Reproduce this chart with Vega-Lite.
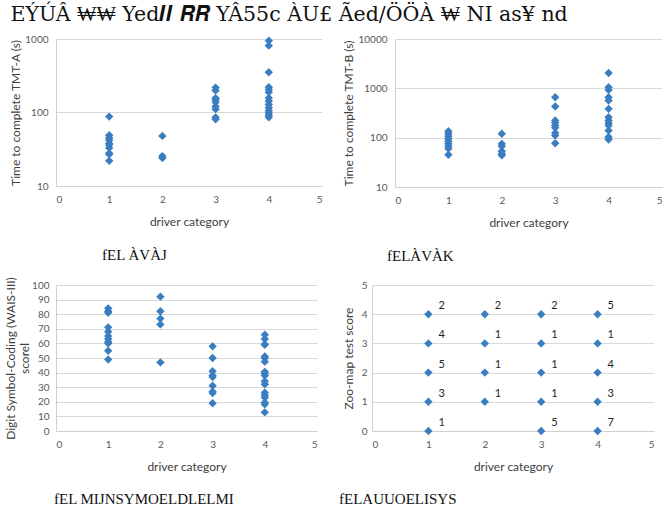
{
  "$schema": "https://vega.github.io/schema/vega-lite/v6.json",
  "padding": {"left": 4, "top": 4, "right": 2, "bottom": 2},
  "background": "white",
  "title": {"text": "EÝÚÂ ₩₩ Yed𝑰𝑰 𝑹𝑹 YÂ55c ÀU£   Ãed/ÖÖÀ   ₩ NI as¥ nd", "anchor": "start", "fontSize": 20.5, "font": "DejaVu Serif", "fontWeight": "normal", "color": "#111111", "offset": 9, "dx": 6},
  "config": {
    "view": {"stroke": null},
    "font": "Lato",
    "axis": {"labelFont": "Lato", "titleFont": "Lato", "labelFontSize": 10, "titleFontSize": 12, "labelColor": "#595959", "titleColor": "#404040", "titleFontWeight": "normal", "ticks": false, "domainColor": "#d0d0d0", "gridColor": "#d9d9d9", "labelPadding": 8},
    "axisX": {"grid": false, "titlePadding": 12},
    "axisY": {"titlePadding": 2},
    "title": {"font": "Liberation Serif", "fontSize": 15, "fontWeight": "normal", "color": "#111111"}
  },
  "datasets": {
    "tmtA": [
      {"cat": 1, "t": 88}, {"cat": 1, "t": 49}, {"cat": 1, "t": 45}, {"cat": 1, "t": 42}, {"cat": 1, "t": 38}, {"cat": 1, "t": 36}, {"cat": 1, "t": 33}, {"cat": 1, "t": 28}, {"cat": 1, "t": 27}, {"cat": 1, "t": 22},
      {"cat": 2, "t": 48}, {"cat": 2, "t": 25.5}, {"cat": 2, "t": 24},
      {"cat": 3, "t": 218}, {"cat": 3, "t": 199}, {"cat": 3, "t": 157}, {"cat": 3, "t": 149}, {"cat": 3, "t": 138}, {"cat": 3, "t": 121}, {"cat": 3, "t": 111}, {"cat": 3, "t": 86}, {"cat": 3, "t": 81},
      {"cat": 4, "t": 949}, {"cat": 4, "t": 812}, {"cat": 4, "t": 353}, {"cat": 4, "t": 221}, {"cat": 4, "t": 205}, {"cat": 4, "t": 189}, {"cat": 4, "t": 158}, {"cat": 4, "t": 143}, {"cat": 4, "t": 128}, {"cat": 4, "t": 116}, {"cat": 4, "t": 106}, {"cat": 4, "t": 98}, {"cat": 4, "t": 91}, {"cat": 4, "t": 86}
    ],
    "tmtB": [
      {"cat": 1, "t": 135}, {"cat": 1, "t": 120}, {"cat": 1, "t": 107}, {"cat": 1, "t": 95}, {"cat": 1, "t": 85}, {"cat": 1, "t": 75}, {"cat": 1, "t": 67}, {"cat": 1, "t": 60}, {"cat": 1, "t": 45},
      {"cat": 2, "t": 120}, {"cat": 2, "t": 75}, {"cat": 2, "t": 67}, {"cat": 2, "t": 53}, {"cat": 2, "t": 47}, {"cat": 2, "t": 44},
      {"cat": 3, "t": 660}, {"cat": 3, "t": 428}, {"cat": 3, "t": 223}, {"cat": 3, "t": 200}, {"cat": 3, "t": 177}, {"cat": 3, "t": 158}, {"cat": 3, "t": 125}, {"cat": 3, "t": 111}, {"cat": 3, "t": 77},
      {"cat": 4, "t": 2050}, {"cat": 4, "t": 1050}, {"cat": 4, "t": 930}, {"cat": 4, "t": 660}, {"cat": 4, "t": 566}, {"cat": 4, "t": 384}, {"cat": 4, "t": 260}, {"cat": 4, "t": 223}, {"cat": 4, "t": 197}, {"cat": 4, "t": 177}, {"cat": 4, "t": 140}, {"cat": 4, "t": 103}, {"cat": 4, "t": 92}
    ],
    "dsc": [
      {"cat": 1, "s": 84}, {"cat": 1, "s": 82}, {"cat": 1, "s": 81}, {"cat": 1, "s": 71}, {"cat": 1, "s": 68}, {"cat": 1, "s": 65}, {"cat": 1, "s": 63}, {"cat": 1, "s": 61}, {"cat": 1, "s": 60}, {"cat": 1, "s": 55}, {"cat": 1, "s": 49},
      {"cat": 2, "s": 92}, {"cat": 2, "s": 82}, {"cat": 2, "s": 77}, {"cat": 2, "s": 73}, {"cat": 2, "s": 47},
      {"cat": 3, "s": 58}, {"cat": 3, "s": 50}, {"cat": 3, "s": 41}, {"cat": 3, "s": 38}, {"cat": 3, "s": 37}, {"cat": 3, "s": 31}, {"cat": 3, "s": 27}, {"cat": 3, "s": 26}, {"cat": 3, "s": 19},
      {"cat": 4, "s": 66}, {"cat": 4, "s": 63}, {"cat": 4, "s": 59.5}, {"cat": 4, "s": 59}, {"cat": 4, "s": 51}, {"cat": 4, "s": 50}, {"cat": 4, "s": 47.5}, {"cat": 4, "s": 40.5}, {"cat": 4, "s": 39.5}, {"cat": 4, "s": 38}, {"cat": 4, "s": 34}, {"cat": 4, "s": 32}, {"cat": 4, "s": 26.3}, {"cat": 4, "s": 24.7}, {"cat": 4, "s": 23}, {"cat": 4, "s": 19.5}, {"cat": 4, "s": 18.3}, {"cat": 4, "s": 12.8}
    ],
    "zoo": [
      {"cat": 1, "s": 4, "n": 2}, {"cat": 1, "s": 3, "n": 4}, {"cat": 1, "s": 2, "n": 5}, {"cat": 1, "s": 1, "n": 3}, {"cat": 1, "s": 0, "n": 1},
      {"cat": 2, "s": 4, "n": 2}, {"cat": 2, "s": 3, "n": 1}, {"cat": 2, "s": 2, "n": 1}, {"cat": 2, "s": 1, "n": 1},
      {"cat": 3, "s": 4, "n": 2}, {"cat": 3, "s": 3, "n": 1}, {"cat": 3, "s": 2, "n": 1}, {"cat": 3, "s": 1, "n": 1}, {"cat": 3, "s": 0, "n": 5},
      {"cat": 4, "s": 4, "n": 5}, {"cat": 4, "s": 3, "n": 1}, {"cat": 4, "s": 2, "n": 4}, {"cat": 4, "s": 1, "n": 3}, {"cat": 4, "s": 0, "n": 7}
    ]
  },
  "spacing": 12,
  "vconcat": [
    {
      "spacing": 20,
      "hconcat": [
        {
          "width": 266, "height": 147,
          "data": {"name": "tmtA"},
          "title": {"text": "fEL ÀVÀJ", "orient": "bottom", "anchor": "start", "frame": "group", "dx": 46, "offset": 21},
          "mark": {"type": "point", "shape": "diamond", "filled": true, "size": 70, "color": "#3a7dc1", "opacity": 1},
          "encoding": {
            "x": {"field": "cat", "type": "quantitative", "scale": {"domain": [0, 5], "nice": false}, "axis": {"values": [0, 1, 2, 3, 4, 5], "title": "driver category"}},
            "y": {"field": "t", "type": "quantitative", "scale": {"type": "log", "domain": [10, 1000], "nice": false}, "axis": {"values": [10, 100, 1000], "format": "d", "title": "Time to complete TMT-A (s)"}}
          }
        },
        {
          "width": 267, "height": 148,
          "data": {"name": "tmtB"},
          "title": {"text": "fELÀVÀK", "orient": "bottom", "anchor": "start", "frame": "group", "dx": -8, "offset": 21},
          "mark": {"type": "point", "shape": "diamond", "filled": true, "size": 70, "color": "#3a7dc1", "opacity": 1},
          "encoding": {
            "x": {"field": "cat", "type": "quantitative", "scale": {"domain": [0, 5], "nice": false}, "axis": {"values": [0, 1, 2, 3, 4, 5], "title": "driver category"}},
            "y": {"field": "t", "type": "quantitative", "scale": {"type": "log", "domain": [10, 10000], "nice": false}, "axis": {"values": [10, 100, 1000, 10000], "format": "d", "title": "Time to complete TMT-B (s)"}}
          }
        }
      ]
    },
    {
      "spacing": 22,
      "hconcat": [
        {
          "width": 261, "height": 146,
          "data": {"name": "dsc"},
          "title": {"text": "fEL MIJNSYMOELDLELMI", "orient": "bottom", "anchor": "start", "frame": "group", "dx": -2, "offset": 20},
          "mark": {"type": "point", "shape": "diamond", "filled": true, "size": 70, "color": "#3a7dc1", "opacity": 1},
          "encoding": {
            "x": {"field": "cat", "type": "quantitative", "scale": {"domain": [0, 5], "nice": false}, "axis": {"values": [0, 1, 2, 3, 4, 5], "title": "driver category"}},
            "y": {"field": "s", "type": "quantitative", "scale": {"domain": [0, 100], "nice": false}, "axis": {"values": [0, 10, 20, 30, 40, 50, 60, 70, 80, 90, 100], "title": ["Digit Symbol-Coding (WAIS-III)", "scorel"], "titlePadding": 0, "labelPadding": 7}}
          }
        },
        {
          "width": 282, "height": 146,
          "data": {"name": "zoo"},
          "title": {"text": "fELAUUOELISYS", "orient": "bottom", "anchor": "start", "frame": "group", "dx": -33, "offset": 20},
          "encoding": {
            "x": {"field": "cat", "type": "quantitative", "scale": {"domain": [0, 5], "nice": false}, "axis": {"values": [0, 1, 2, 3, 4, 5], "title": "driver category"}},
            "y": {"field": "s", "type": "quantitative", "scale": {"domain": [0, 5], "nice": false}, "axis": {"values": [0, 1, 2, 3, 4, 5], "title": "Zoo-map test score", "labelPadding": 5, "titlePadding": 6}}
          },
          "layer": [
            {"mark": {"type": "point", "shape": "diamond", "filled": true, "size": 70, "color": "#3a7dc1", "opacity": 1}},
            {"mark": {"type": "text", "dx": 10, "dy": -8, "fontSize": 11, "font": "Lato", "color": "#262626", "align": "left"}, "encoding": {"text": {"field": "n", "type": "quantitative"}}}
          ]
        }
      ]
    }
  ]
}
